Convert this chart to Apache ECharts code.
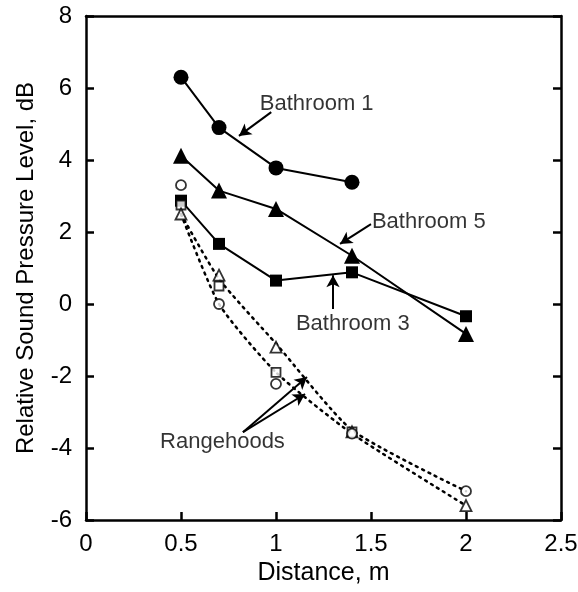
<!DOCTYPE html>
<html>
<head>
<meta charset="utf-8">
<script src="https://cdn.jsdelivr.net/npm/echarts@6/dist/echarts.min.js"></script>
<style>
  html, body { margin: 0; background: #fff; }
  #chart { width: 578px; height: 592px; }
</style>
</head>
<body>
<div id="chart"></div>
<script>
  // distances (m) where each measurement was taken
  const distances = [0.5, 0.7, 1.0, 1.4, 2.0];
  const xTicks = ['0', '0.5', '1', '1.5', '2', '2.5'];
  const yTicks = ['-6', '-4', '-2', '0', '2', '4', '6', '8'];

  // bathroom fans (solid lines)
  const bathroom1 = [6.3, 4.9, 3.78, 3.38];
  const bathroom5 = [4.12, 3.15, 2.64, 1.34, -0.83];
  const bathroom3 = [2.87, 1.67, 0.65, 0.88, -0.34];

  // rangehoods (open markers)
  const hoodCircle = [3.3, 0.0, -2.22, -3.6, -5.2];
  const hoodSquare = [2.75, 0.5, -1.9, -3.55];
  const hoodTriangle = [2.5, 0.8, -1.2, -3.55, -5.6];

  // dotted curves through the rangehood data
  const hoodCurveA = [2.5, 0.7, -1.1, -3.5, -5.2];
  const hoodCurveB = [2.5, 0.0, -1.9, -3.6, -5.6];

  // annotation text (left edge, middle) and arrows [from, to]
  const noteText = ['Bathroom 1', 'Bathroom 5', 'Bathroom 3', 'Rangehoods'];
  const notePos = [[0.915, 5.56], [1.505, 2.28], [1.105, -0.56], [0.39, -3.83]];
  const arrows = [
    [[0.975, 5.33], [0.805, 4.67]],
    [[1.500, 2.22], [1.337, 1.67]],
    [[1.300, -0.14], [1.300, 0.80]],
    [[0.826, -3.56], [1.163, -2.03]],
    [[0.826, -3.56], [1.153, -2.50]]
  ];

  const pairs = (xs, ys) => ys.map((y, i) => [xs[i], y]);
  const font = 'Liberation Sans, Arial, Helvetica, sans-serif';

  const myChart = echarts.init(document.getElementById('chart'));

  const solid = (name, data, symbol, size) => ({
    name, type: 'line', data: pairs(distances, data),
    symbol, symbolSize: size,
    lineStyle: { color: '#000', width: 2 },
    itemStyle: { color: '#000' },
    z: 4
  });
  const open = (name, data, symbol, size) => ({
    name, type: 'scatter', data: pairs(distances, data),
    symbol, symbolSize: size,
    itemStyle: { color: '#fff', borderColor: '#000', borderWidth: 1.8 },
    z: 5
  });
  const dotted = (name, data) => ({
    name, type: 'line', data: pairs(distances, data),
    symbol: 'none', smooth: 0.2,
    lineStyle: { color: '#000', width: 2.5, type: [2, 5], cap: 'round' },
    z: 3
  });

  const axisLine = { show: true, onZero: false, lineStyle: { color: '#000', width: 2.5 } };
  const tick = { inside: true, length: 8, lineStyle: { color: '#000', width: 2.5 } };

  const option = {
    animation: false,
    textStyle: { fontFamily: font },
    grid: { left: 86, right: 17, top: 16, bottom: 72, containLabel: false, outerBoundsMode: 'none' },
    xAxis: [{
      type: 'value', min: 0, max: 2.5, interval: 0.5,
      name: 'Distance, m', nameLocation: 'middle', nameGap: 33,
      nameTextStyle: { fontSize: 25, color: '#000', fontFamily: font },
      axisLine, axisTick: tick,
      axisLabel: { fontSize: 24, color: '#000', margin: 12, fontFamily: font,
        formatter: v => xTicks[Math.round(v / 0.5)] },
      splitLine: { show: false }
    }, {
      type: 'value', min: 0, max: 2.5, position: 'top',
      axisLine, axisTick: { show: false }, axisLabel: { show: false }, splitLine: { show: false }
    }],
    yAxis: [{
      type: 'value', min: -6, max: 8, interval: 2,
      name: 'Relative Sound Pressure Level, dB', nameLocation: 'middle', nameGap: 48,
      nameTextStyle: { fontSize: 24, color: '#000', fontFamily: font },
      axisLine, axisTick: tick,
      axisLabel: { fontSize: 24, color: '#000', margin: 14, fontFamily: font,
        formatter: v => yTicks[Math.round((v + 6) / 2)] },
      splitLine: { show: false }
    }, {
      type: 'value', min: -6, max: 8, interval: 2, position: 'right',
      axisLine, axisTick: tick,
      axisLabel: { show: false }, splitLine: { show: false }
    }],
    series: [
      dotted('Rangehoods A', hoodCurveA),
      dotted('Rangehoods B', hoodCurveB),
      solid('Bathroom 1', bathroom1, 'circle', 15),
      solid('Bathroom 5', bathroom5, 'triangle', 16),
      solid('Bathroom 3', bathroom3, 'rect', 12),
      open('Rangehood square', hoodSquare, 'rect', 9),
      open('Rangehood triangle', hoodTriangle, 'triangle', 11),
      open('Rangehood circle', hoodCircle, 'circle', 10),
      {
        name: 'notes', type: 'scatter', silent: true, symbolSize: 0,
        data: notePos.map((p, i) => ({ value: p, name: noteText[i] })),
        label: { show: true, position: 'right', distance: 0, formatter: '{b}',
          fontSize: 22, color: '#000', fontFamily: font },
        markLine: {
          silent: true, symbol: ['none', 'arrow'], symbolSize: [10, 12],
          lineStyle: { color: '#000', width: 2, type: 'solid' },
          label: { show: false },
          data: arrows.map(a => [{ coord: a[0] }, { coord: a[1] }])
        },
        z: 6
      }
    ]
  };

  myChart.setOption(option);
</script>
</body>
</html>
